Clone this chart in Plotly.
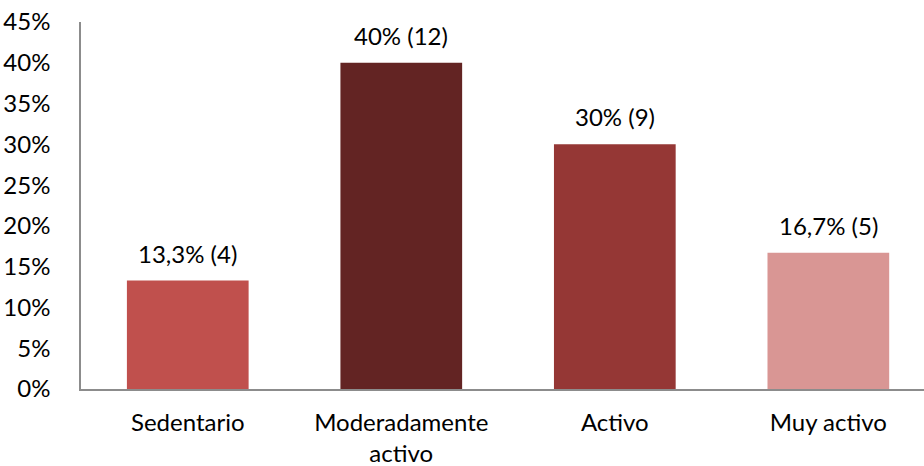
import plotly.graph_objects as go

categories = ["Sedentario", "Moderadamente<br>activo", "Activo", "Muy activo"]
percentages = [13.3, 40.0, 30.0, 16.7]
counts = [4, 12, 9, 5]
pct_labels = ["13,3%", "40%", "30%", "16,7%"]
bar_colors = ["#C0504D", "#632423", "#953735", "#D99694"]
y_tick_values = [0, 5, 10, 15, 20, 25, 30, 35, 40, 45]
y_tick_labels = [f"{v}%" for v in y_tick_values]

font_family = "Lato, Carlito, Calibri, sans-serif"
font_size = 24

fig = go.Figure(
    go.Bar(
        x=categories,
        y=percentages,
        marker=dict(color=bar_colors, line=dict(width=0)),
        hoverinfo="skip",
    )
)

for cat, val, pl, n in zip(categories, percentages, pct_labels, counts):
    fig.add_annotation(
        x=cat, y=val, text=f"{pl} ({n})",
        showarrow=False, yanchor="bottom", yshift=11,
        font=dict(family=font_family, size=font_size, color="#000000"),
    )

fig.update_layout(
    width=924, height=466,
    margin=dict(l=81, r=0, t=22, b=77),
    paper_bgcolor="white", plot_bgcolor="white",
    bargap=0.43,
    showlegend=False,
    font=dict(family=font_family, size=font_size, color="#000000"),
)
fig.update_xaxes(
    range=[-0.5, 3.448], automargin=False,
    showline=True, linecolor="#8C8C8C", linewidth=1.5,
    ticks="", showgrid=False, ticklabelstandoff=11,
    tickfont=dict(family=font_family, size=font_size),
)
fig.update_yaxes(
    range=[0, 45], automargin=False,
    tickvals=y_tick_values, ticktext=y_tick_labels,
    showline=True, linecolor="#8C8C8C", linewidth=1.5,
    ticks="", showgrid=False, zeroline=False, ticklabelstandoff=24,
    tickfont=dict(family=font_family, size=font_size),
)

fig.write_html("out.html")
